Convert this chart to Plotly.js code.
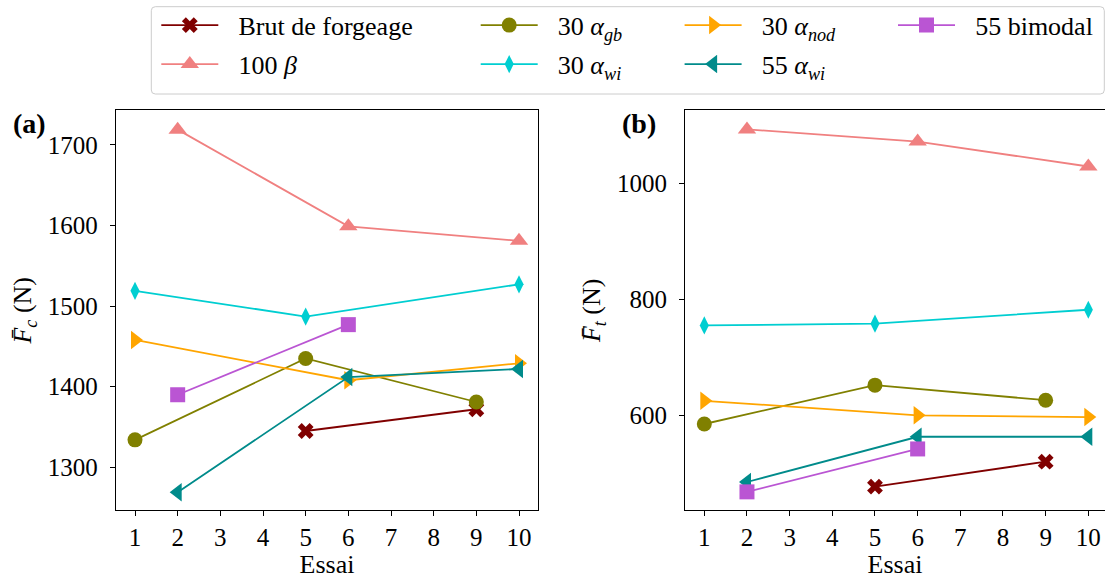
<!DOCTYPE html>
<html>
<head>
<meta charset="utf-8">
<script src="https://cdn.plot.ly/plotly-3.0.1.min.js"></script>
<style>html,body{margin:0;padding:0;background:#fff;overflow:hidden}#chart{width:1105px;height:579px}</style>
</head>
<body>
<div id="chart"></div>
<script>
// ---- data ----
const seriesNames = ["Brut de forgeage", "100 <i>β</i>", "30 <i>α</i><sub><i>gb</i></sub>", "30 <i>α</i><sub><i>wi</i></sub>", "30 <i>α</i><sub><i>nod</i></sub>", "55 <i>α</i><sub><i>wi</i></sub>", "55 bimodal"];

const essaiBrut = [5, 9];
const fcBrut = [1345, 1372];
const ftBrut = [477, 520];

const essai100b = [2, 6, 10];
const fc100b = [1719, 1599, 1581];
const ft100b = [1093, 1072, 1029];

const essai30gb = [1, 5, 9];
const fc30gb = [1334, 1435, 1381];
const ft30gb = [585, 652, 626];

const essai30wi = [1, 5, 10];
const fc30wi = [1519, 1487, 1527];
const ft30wi = [755, 758, 782];

const essai30nod = [1, 6, 10];
const fc30nod = [1458, 1408, 1429];
const ft30nod = [625, 600, 597];

const essai55wi = [2, 6, 10];
const fc55wi = [1269, 1412, 1422];
const ft55wi = [485, 563, 563];

const essai55bi = [2, 6];
const fc55bi = [1390, 1477];
const ft55bi = [468, 542];

const xTickVals = [1, 2, 3, 4, 5, 6, 7, 8, 9, 10];
const yTicksLeft = [1300, 1400, 1500, 1600, 1700];
const yTicksRight = [600, 800, 1000];

// ---- styling ----
const FONT = "'Liberation Serif', 'DejaVu Serif', serif";
const W = 1105, H = 579;
const LEGPAD = "\u2002\u200A";
const series = [
  {x: essaiBrut,  a: fcBrut,  b: ftBrut,  color: "#800000", symbol: "x",              size: 14, legend: "legend",  lineStartPx: 161.3, rowY: 25.2},
  {x: essai100b,  a: fc100b,  b: ft100b,  color: "#F08080", symbol: "triangle-up",    size: 16, legend: "legend2", lineStartPx: 161.3, rowY: 64.2},
  {x: essai30gb,  a: fc30gb,  b: ft30gb,  color: "#808000", symbol: "circle",         size: 15, legend: "legend3", lineStartPx: 480.7, rowY: 25.2},
  {x: essai30wi,  a: fc30wi,  b: ft30wi,  color: "#00CED1", symbol: "diamond-tall",   size: 13, legend: "legend4", lineStartPx: 480.7, rowY: 64.2},
  {x: essai30nod, a: fc30nod, b: ft30nod, color: "#FFA500", symbol: "triangle-right", size: 16, legend: "legend5", lineStartPx: 684.6, rowY: 25.2},
  {x: essai55wi,  a: fc55wi,  b: ft55wi,  color: "#008B8B", symbol: "triangle-left",  size: 16, legend: "legend6", lineStartPx: 684.6, rowY: 64.2},
  {x: essai55bi,  a: fc55bi,  b: ft55bi,  color: "#BA55D3", symbol: "square",         size: 15, legend: "legend7", lineStartPx: 898.0, rowY: 25.2}
];

const traces = [];
series.forEach((s, i) => {
  traces.push({
    type: "scatter", mode: "lines+markers", name: LEGPAD + seriesNames[i],
    x: s.x, y: s.a, xaxis: "x", yaxis: "y",
    line: {color: s.color, width: 1.8},
    marker: {color: s.color, symbol: s.symbol, size: s.size, line: {width: 0}},
    legend: s.legend, showlegend: true, cliponaxis: false
  });
});
series.forEach((s, i) => {
  traces.push({
    type: "scatter", mode: "lines+markers", name: seriesNames[i],
    x: s.x, y: s.b, xaxis: "x2", yaxis: "y2",
    line: {color: s.color, width: 1.8},
    marker: {color: s.color, symbol: s.symbol, size: s.size, line: {width: 0}},
    showlegend: false, cliponaxis: false
  });
});

const tickFont = {family: FONT, size: 25, color: "#000"};
const titleFont = {family: FONT, size: 26, color: "#000"};
function xAxis(domain, range, anchor) {
  return {
    domain: domain, range: range, anchor: anchor,
    tickmode: "array", tickvals: xTickVals, ticktext: xTickVals.map(String),
    ticks: "outside", ticklen: 5, tickwidth: 1, tickcolor: "#000",
    ticklabelstandoff: 0,
    showline: true, linecolor: "#000", linewidth: 1, mirror: true,
    showgrid: false, zeroline: false, tickfont: tickFont,
    title: {text: "Essai", font: titleFont, standoff: 10},
    automargin: false, fixedrange: true
  };
}
function yAxis(domain, range, anchor, vals, mirror, title) {
  return {
    domain: domain, range: range, anchor: anchor,
    tickmode: "array", tickvals: vals, ticktext: vals.map(String),
    ticks: "outside", ticklen: 5, tickwidth: 1, tickcolor: "#000",
    ticklabelstandoff: 7,
    showline: true, linecolor: "#000", linewidth: 1, mirror: mirror,
    showgrid: false, zeroline: false, tickfont: tickFont,
    title: {text: title, font: titleFont, standoff: 8},
    automargin: false, fixedrange: true
  };
}

const yDom = [1 - 510.3 / H, 1 - 110.3 / H];
const layout = {
  width: W, height: H,
  margin: {l: 0, r: 0, t: 0, b: 0},
  paper_bgcolor: "#fff", plot_bgcolor: "#fff",
  font: {family: FONT, color: "#000"},
  xaxis: xAxis([115.8 / W, 538.2 / W], [0.55, 10.45], "y"),
  yaxis: yAxis(yDom, [1246.6, 1743], "x", yTicksLeft, true, "<i>F\u0304</i><sub><i>c</i></sub> (N)"),
  xaxis2: xAxis([685.1 / W, 1], [0.55, 0.55 + (W - 685.1) / 42.67], "y2"),
  yaxis2: yAxis(yDom, [436.2, 1125.9], "x2", yTicksRight, false, "<i>F\u0304</i><sub><i>t</i></sub> (N)"),
  annotations: [
    {text: "<b>(a)</b>", xref: "paper", yref: "paper", x: 11 / W, y: 1 - 124 / H, xanchor: "left", yanchor: "middle", showarrow: false, font: {family: FONT, size: 28, color: "#000"}},
    {text: "<b>(b)</b>", xref: "paper", yref: "paper", x: 620 / W, y: 1 - 124 / H, xanchor: "left", yanchor: "middle", showarrow: false, font: {family: FONT, size: 28, color: "#000"}}
  ],
  shapes: [],
  showlegend: true
};

// legend frame (rounded rectangle)
(function () {
  const x0 = 151.3 / W, x1 = 1104.3 / W, yt = 1 - 6.7 / H, yb = 1 - 94 / H;
  const rx = 4 / W, ry = 4 / H;
  const p = `M${x0 + rx},${yt} L${x1 - rx},${yt} Q${x1},${yt} ${x1},${yt - ry} L${x1},${yb + ry} Q${x1},${yb} ${x1 - rx},${yb} L${x0 + rx},${yb} Q${x0},${yb} ${x0},${yb + ry} L${x0},${yt - ry} Q${x0},${yt} ${x0 + rx},${yt} Z`;
  layout.shapes.push({type: "path", xref: "paper", yref: "paper", path: p, line: {color: "#cccccc", width: 1}, fillcolor: "rgba(255,255,255,0.8)", layer: "below"});
})();

// one legend per entry, placed like matplotlib's columns
series.forEach((s) => {
  layout[s.legend] = {
    x: (s.lineStartPx - 5) / W, xanchor: "left",
    y: 1 - s.rowY / H, yanchor: "middle",
    xref: "paper", yref: "paper",
    bgcolor: "rgba(0,0,0,0)", borderwidth: 0,
    itemwidth: 57, itemsizing: "trace",
    font: {family: FONT, size: 26, color: "#000"}
  };
});

Plotly.newPlot("chart", traces, layout, {displayModeBar: false, staticPlot: true});
</script>
</body>
</html>
